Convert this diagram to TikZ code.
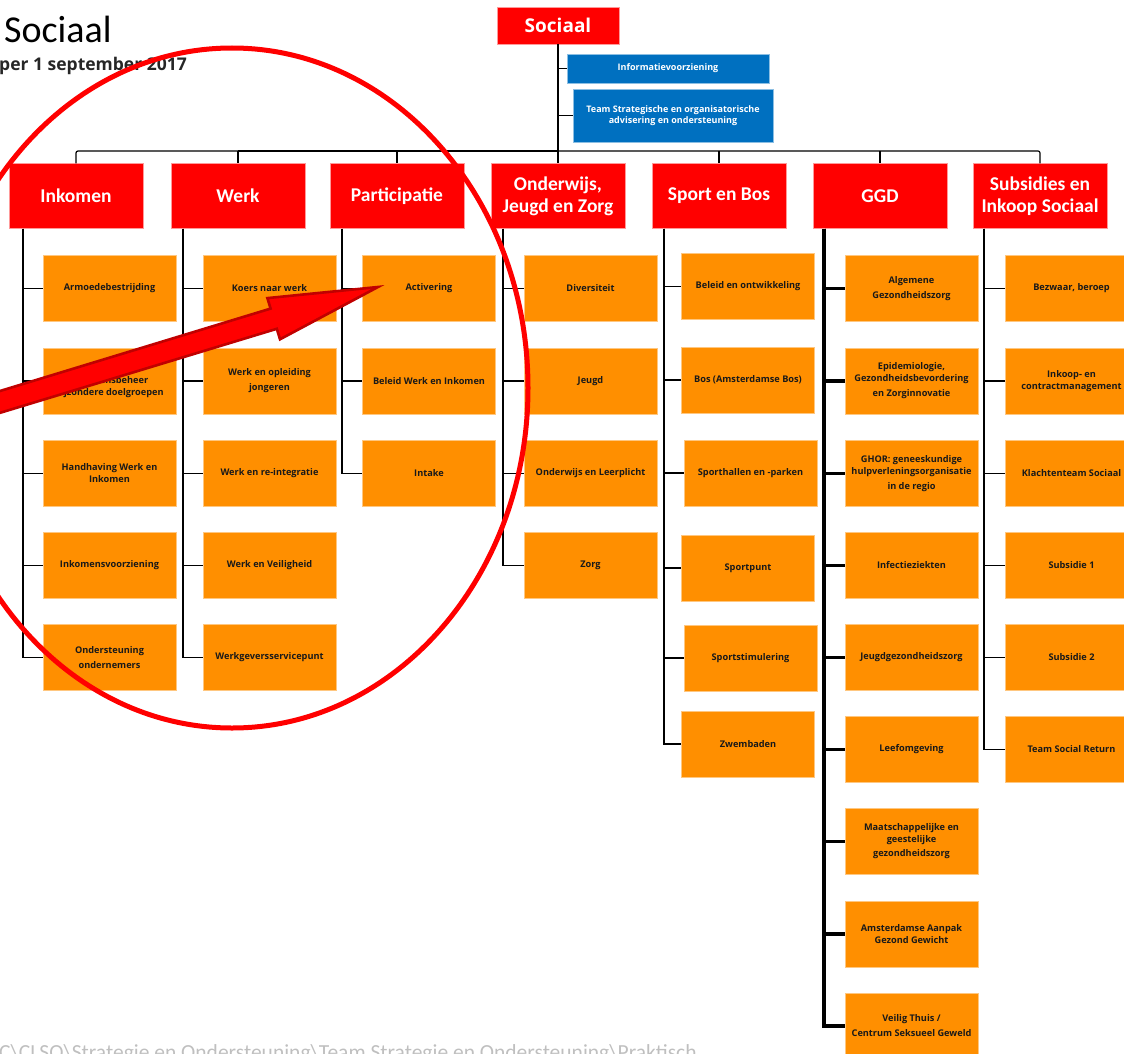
\documentclass[tikz,border=0pt]{standalone}
\usepackage{fontspec}
\setmainfont{Carlito}
\newfontfamily\unitfont{Open Sans}
\usepackage{tikz}
\usetikzlibrary{calc}

\definecolor{socred}{RGB}{255,0,0}
\definecolor{socorange}{RGB}{255,143,0}
\definecolor{socblue}{RGB}{0,112,192}
\definecolor{arrowdark}{RGB}{192,0,0}

\tikzset{
  tree/.style={draw=black, line width=1.6pt},
  drop/.style={draw=black, line width=1.2pt},
  topbox/.style={fill=socred, draw=socred!40!white, line width=0.5pt, text=white, inner sep=0pt,
    minimum width=122pt, minimum height=37pt, font=\unitfont\bfseries\fontsize{19}{21}\selectfont},
  staff/.style={fill=socblue, draw=socblue!45!white, line width=0.5pt, text=white, inner sep=0pt, align=center,
    font=\unitfont\bfseries\fontsize{9}{11.5}\selectfont},
  dept/.style={fill=socred, draw=socred!40!white, line width=0.5pt, text=white, inner sep=0pt, align=center,
    minimum width=134pt, minimum height=65pt, font=\bfseries\fontsize{19.5}{22}\selectfont},
  unit/.style={fill=socorange, draw=socorange!50!white, line width=0.6pt, text=black!90, inner sep=0pt, align=center,
    minimum width=133pt, minimum height=66pt, font=\unitfont\bfseries\fontsize{9.2}{12}\selectfont},
}

\begin{document}
\begin{tikzpicture}[x=1pt, y=-1pt]
  \useasboundingbox (0,0) rectangle (1124,1054);

  % titel
  \node[anchor=base west, inner sep=0pt, font=\fontsize{38}{40}\selectfont] (title) at (4,43) {Sociaal};
  \node[anchor=base west, inner sep=0pt, text=black!85, font=\unitfont\bfseries\fontsize{17.5}{20}\selectfont] (date) at (-1,71) {per 1 september 2017};

  % top
  \node[topbox] (soc) at (558,25.5) {Sociaal};
  \node[staff, minimum width=202pt, minimum height=29pt] (info) at (668,68.5) {Informatievoorziening};
  \node[staff, minimum width=200pt, minimum height=53pt] (team) at (673,115.5) {Team Strategische en organisatorische\\advisering en ondersteuning};
  \coordinate (bus) at (558,151);

  \draw[tree] (soc.south) -- (bus);
  \draw[tree] (info.west -| soc.south) -- (info.west);
  \draw[tree] (team.west -| soc.south) -- (team.west);

  % afdelingen
  \node[dept] (ink) at (76,196) {Inkomen};
  \node[dept] (werk) at (238,196) {Werk};
  \node[dept] (part) at (397,196) {Participatie};
  \node[dept] (ow) at (558,196) {Onderwijs,\\Jeugd en Zorg};
  \node[dept] (sport) at (719,196) {Sport en Bos};
  \node[dept] (ggd) at (880,196) {GGD};
  \node[dept] (sub) at (1040,196) {Subsidies en\\Inkoop Sociaal};

  \draw[drop, rounded corners=2pt] (ink.north) -- (ink.north |- bus) -- (sub.north |- bus) -- (sub.north);
  \draw[line width=2.6pt] (werk.north |- bus) -- (bus);
  \draw[drop] (werk.north |- bus) -- (werk.north);
  \draw[drop] (part.north |- bus) -- (part.north);
  \draw[drop] (bus) -- (ow.north);
  \draw[drop] (sport.north |- bus) -- (sport.north);
  \draw[drop] (ggd.north |- bus) -- (ggd.north);

  % Inkomen
  \node[unit] (ink1) at (109.5,288.5) {Armoedebestrijding};
  \node[unit] (ink2) at (109.5,381) {Debiteuren\\inkomensbeheer\\bijzondere doelgroepen};
  \node[unit] (ink3) at (109.5,473.5) {Handhaving Werk en\\Inkomen};
  \node[unit] (ink4) at (109.5,565.5) {Inkomensvoorziening};
  \node[unit] (ink5) at (109.5,657.5) {Ondersteuning\\[3pt]ondernemers};

  % Werk
  \node[unit] (werk1) at (269.5,288.5) {Koers naar werk};
  \node[unit] (werk2) at (269.5,381) {Werk en opleiding\\[3pt]jongeren};
  \node[unit] (werk3) at (269.5,473.5) {Werk en re-integratie};
  \node[unit] (werk4) at (269.5,565.5) {Werk en Veiligheid};
  \node[unit] (werk5) at (269.5,657.5) {Werkgeversservicepunt};

  % Participatie
  \node[unit] (part1) at (429,288.5) {Activering};
  \node[unit] (part2) at (429,381) {Beleid Werk en Inkomen};
  \node[unit] (part3) at (429,473.5) {Intake};

  % Onderwijs, Jeugd en Zorg
  \node[unit] (ow1) at (590.5,288.5) {Diversiteit};
  \node[unit] (ow2) at (590.5,381) {Jeugd};
  \node[unit] (ow3) at (590.5,473.5) {Onderwijs en Leerplicht};
  \node[unit] (ow4) at (590.5,565.5) {Zorg};

  % Sport en Bos
  \node[unit] (sport1) at (748,286.5) {Beleid en ontwikkeling};
  \node[unit] (sport2) at (748,380) {Bos (Amsterdamse Bos)};
  \node[unit] (sport3) at (750.5,473) {Sporthallen en -parken};
  \node[unit] (sport4) at (748,568) {Sportpunt};
  \node[unit] (sport5) at (750.5,658) {Sportstimulering};
  \node[unit] (sport6) at (748,744) {Zwembaden};

  % GGD
  \node[unit] (ggd1) at (911.5,288.5) {Algemene\\[3pt]Gezondheidszorg};
  \node[unit] (ggd2) at (911.5,381) {Epidemiologie,\\Gezondheidsbevordering\\[3pt]en Zorginnovatie};
  \node[unit] (ggd3) at (911.5,473.5) {GHOR: geneeskundige\\hulpverleningsorganisatie\\[3pt]in de regio};
  \node[unit] (ggd4) at (911.5,565.5) {Infectieziekten};
  \node[unit] (ggd5) at (911.5,657.5) {Jeugdgezondheidszorg};
  \node[unit] (ggd6) at (911.5,749.5) {Leefomgeving};
  \node[unit] (ggd7) at (911.5,841.5) {Maatschappelijke en\\geestelijke\\[2pt]gezondheidszorg};
  \node[unit] (ggd8) at (911.5,934) {Amsterdamse Aanpak\\Gezond Gewicht};
  \node[unit] (ggd9) at (911.5,1026) {Veilig Thuis /\\[3pt]Centrum Seksueel Geweld};

  % Subsidies en Inkoop Sociaal
  \node[unit] (sub1) at (1071.5,288.5) {Bezwaar, beroep};
  \node[unit] (sub2) at (1071.5,381) {Inkoop- en\\contractmanagement};
  \node[unit] (sub3) at (1071.5,473.5) {Klachtenteam Sociaal};
  \node[unit] (sub4) at (1071.5,565.5) {Subsidie 1};
  \node[unit] (sub5) at (1071.5,657.5) {Subsidie 2};
  \node[unit] (sub6) at (1071.5,749.5) {Team Social Return};

  \foreach \n in {1,...,5} {
    \draw[tree] ([xshift=14pt]ink.south west) |- (ink\n.west);
    \draw[tree] ([xshift=12pt]werk.south west) |- (werk\n.west);
  }
  \foreach \n in {1,...,3}
    \draw[tree] ([xshift=12pt]part.south west) |- (part\n.west);
  \foreach \n in {1,...,4}
    \draw[tree] ([xshift=12pt]ow.south west) |- (ow\n.west);
  \foreach \n in {1,...,6} {
    \draw[tree] ([xshift=12pt]sport.south west) |- (sport\n.west);
    \draw[tree] ([xshift=11pt]sub.south west) |- (sub\n.west);
  }
  \foreach \n in {1,...,9}
    \draw[tree, line width=3.6pt] ([xshift=11pt]ggd.south west) |- (ggd\n.west);

  % pad onderaan
  \node[anchor=base west, inner sep=0pt, text=black!25, font=\fontsize{21.5}{24}\selectfont] (path) at (-1,1059)
    {C\textbackslash CLSO\textbackslash Strategie en Ondersteuning\textbackslash Team Strategie en Ondersteuning\textbackslash Praktisch};

  % markering
  \draw[socred, line width=5pt] (232,388) ellipse [x radius=296pt, y radius=340pt];
  \filldraw[fill=socred, draw=arrowdark, line width=2.6pt, line join=miter]
    (-23,398) -- (270.6,308.6) -- (267.4,298.1) -- (378,287) -- (280,339.3) -- (276.8,328.8) -- (-17,418) -- cycle;

\end{tikzpicture}
\end{document}
